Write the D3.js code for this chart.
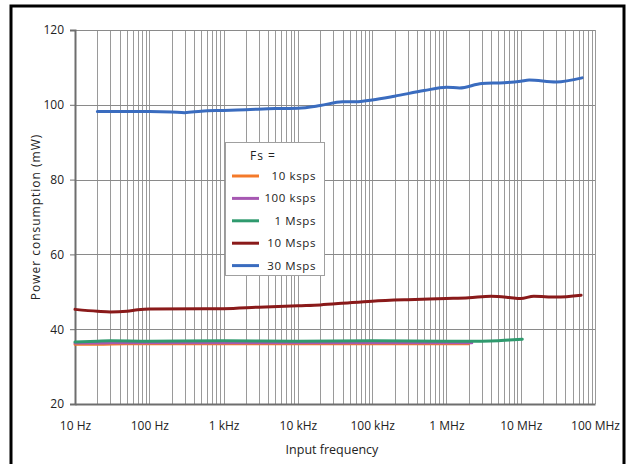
<!DOCTYPE html>
<html><head><meta charset="utf-8">
<script src="https://cdn.jsdelivr.net/npm/d3@7"></script>
<style>body{margin:0;background:#fff}svg{display:block}text{font-family:"Open Sans",sans-serif;fill:#222}</style>
</head><body><svg id="c" width="628" height="464"></svg>
<script>
const seriesNames = ["10 ksps","100 ksps","1 Msps","10 Msps","30 Msps"];
const seriesColors = ["#f47a2a","#a658b2","#2f9a6e","#8a1a1a","#3a6cbf"];
const xTickValues = [1e1,1e2,1e3,1e4,1e5,1e6,1e7,1e8];
const xTickLabels = ["10 Hz","100 Hz","1 kHz","10 kHz","100 kHz","1 MHz","10 MHz","100 MHz"];
const yTickValues = [20,40,60,80,100,120];
const freq10k  = [10,20,50,100,300,1e3,3e3,1e4,3e4,1e5,3e5,1e6,2e6];
const pw10k    = [36.0,36.0,36.1,36.1,36.1,36.1,36.1,36.1,36.1,36.1,36.1,36.1,36.1];
const freq100k = [10,20,50,100,300,1e3,3e3,1e4,3e4,1e5,3e5,1e6,2.2e6];
const pw100k   = [36.3,36.3,36.4,36.4,36.4,36.4,36.4,36.4,36.4,36.4,36.4,36.4,36.4];
const freq1M   = [10,20,30,100,1e3,1e4,1e5,1e6,3e6,5e6,7e6,1.05e7];
const pw1M     = [36.6,36.8,36.9,36.8,36.9,36.8,36.9,36.8,36.8,36.9,37.1,37.3];
const freq10M  = [10,20,30,50,70,100,1e3,3e3,1e4,2e4,5e4,1e5,3e5,1e6,2e6,4e6,7e6,1e7,1.5e7,3e7,6.5e7];
const pw10M    = [45.3,44.8,44.6,44.8,45.2,45.4,45.5,45.9,46.3,46.5,47.1,47.5,47.9,48.2,48.4,48.8,48.5,48.2,48.8,48.6,49.1];
const freq30M  = [20,50,100,200,300,500,1e3,2e3,5e3,1e4,2e4,4e4,6e4,1e5,2e5,5e5,1e6,1.5e6,3e6,6e6,1e7,1.3e7,3e7,6.7e7];
const pw30M    = [98.2,98.2,98.2,98.1,97.9,98.3,98.5,98.7,99.0,99.1,99.8,100.8,100.8,101.3,102.3,103.8,104.7,104.5,105.7,105.9,106.3,106.6,106.1,107.2];

const freqs = [freq10k,freq100k,freq1M,freq10M,freq30M];
const pws = [pw10k,pw100k,pw1M,pw10M,pw30M];

const svg = d3.select("#c");
const L=75,R=595,T=30,B=404;
const x = d3.scaleLog().domain([10,1e8]).range([L,R]);
const y = d3.scaleLinear().domain([20,120]).range([B,T]);

// frame
svg.append("path").attr("d","M11,464 V6 H624 V464").attr("fill","none").attr("stroke","#000").attr("stroke-width",3);

// vertical grid (minor + major)
const vgrid=[];
for(let e=1;e<8;e++){for(let m=1;m<=9;m++){vgrid.push(m*Math.pow(10,e));}}
vgrid.push(1e8);
svg.append("g").selectAll("line").data(vgrid).join("line")
  .attr("x1",d=>Math.round(x(d))+0.5).attr("x2",d=>Math.round(x(d))+0.5)
  .attr("y1",T).attr("y2",B).attr("stroke","#9a9a9a").attr("stroke-width",1);
// horizontal grid
svg.append("g").selectAll("line").data(yTickValues).join("line")
  .attr("x1",L).attr("x2",R).attr("y1",d=>Math.round(y(d))+0.5).attr("y2",d=>Math.round(y(d))+0.5)
  .attr("stroke","#8a8a8a").attr("stroke-width",1);

// y axis
const yAxis = d3.axisLeft(y).tickValues(yTickValues).tickSize(5).tickPadding(6).tickFormat(d3.format("d"));
const gy = svg.append("g").attr("transform",`translate(${L},0)`).call(yAxis);
gy.select(".domain").attr("stroke","#6e6e6e").attr("stroke-width",2);
gy.selectAll(".tick line").attr("stroke","#6e6e6e");
gy.selectAll("text").attr("font-size",12).attr("font-family","Open Sans").attr("fill","#222");

// x axis
const xAxis = d3.axisBottom(x).tickValues(xTickValues).tickSize(0).tickPadding(17).tickFormat((d,i)=>xTickLabels[i]);
const gx = svg.append("g").attr("transform",`translate(0,${B})`).call(xAxis);
gx.select(".domain").attr("stroke","#6e6e6e").attr("stroke-width",2);
gx.selectAll("text").attr("font-size",12).attr("font-family","Open Sans").attr("fill","#222");

// titles
svg.append("text").attr("x",332).attr("y",454).attr("text-anchor","middle").attr("font-size",12.5).text("Input frequency");
svg.append("text").attr("transform",`translate(40,${(T+B)/2}) rotate(-90)`).attr("text-anchor","middle")
  .attr("font-size",12).attr("letter-spacing",1).text("Power consumption (mW)");

// lines
const line = d3.line().x(d=>x(d[0])).y(d=>y(d[1])).curve(d3.curveMonotoneX);
pws.forEach((p,i)=>{
  const pts = freqs[i].map((f,j)=>[f,p[j]]);
  svg.append("path").datum(pts).attr("d",line).attr("fill","none")
    .attr("stroke",seriesColors[i]).attr("stroke-width",3).attr("stroke-linecap","round");
});

// legend
const lg = svg.append("g");
lg.append("rect").attr("x",225.5).attr("y",142.5).attr("width",99).attr("height",133)
  .attr("fill","#fff").attr("stroke","#a0a0a0");
lg.append("text").attr("x",263).attr("y",160).attr("text-anchor","middle").attr("font-size",12).attr("letter-spacing",1).text("Fs =");
seriesNames.forEach((n,i)=>{
  const yy = 176 + i*22.4;
  lg.append("line").attr("x1",232).attr("x2",259).attr("y1",yy).attr("y2",yy)
    .attr("stroke",seriesColors[i]).attr("stroke-width",3);
  lg.append("text").attr("x",316).attr("y",yy+4).attr("text-anchor","end").attr("font-size",11.5).attr("letter-spacing",0.6).text(n);
});
</script></body></html>
